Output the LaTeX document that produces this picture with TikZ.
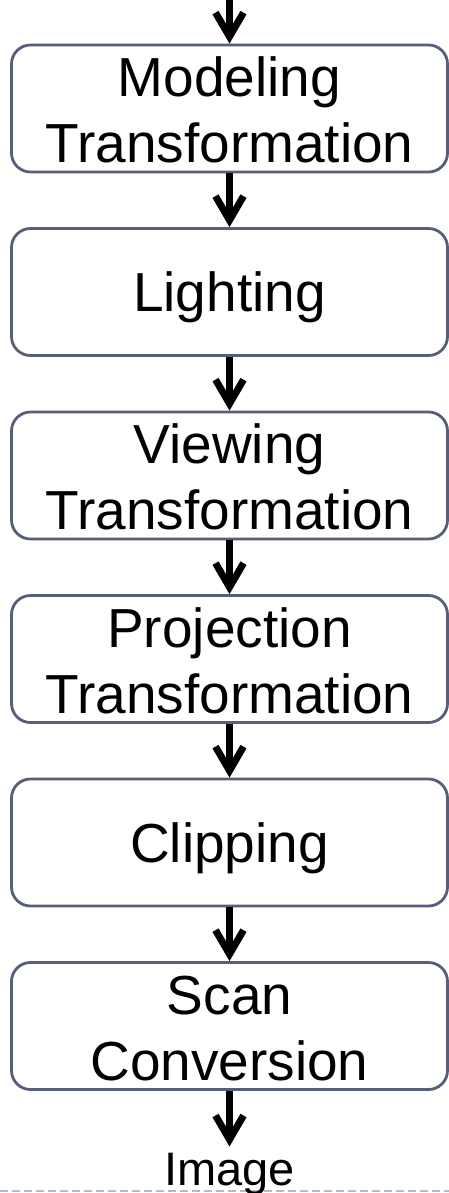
\documentclass[tikz,border=0pt]{standalone}
\usepackage{fontspec}
\setmainfont{Liberation Sans}
\usetikzlibrary{arrows.meta}
\definecolor{boxline}{HTML}{565E7A}
\definecolor{dashc}{HTML}{A9BED3}
\begin{document}
\begin{tikzpicture}[x=1pt,y=-1pt,
  stagebox/.style={draw=boxline, line width=2.8pt, rounded corners=19pt,
    minimum width=436pt, minimum height=127pt, inner sep=0pt},
  txt/.style={inner sep=0pt, anchor=base, font=\fontsize{55}{65}\selectfont},
  imgtxt/.style={inner sep=0pt, anchor=base, font=\fontsize{47}{55}\selectfont},
  flow/.style={line width=7pt, -{Straight Barb[length=24pt,width=28pt]}},
  dashrule/.style={draw=dashc, line width=1.8pt, dash pattern=on 8pt off 4pt}
]
\useasboundingbox (0,0) rectangle (449,1193);

% boxes
\node[stagebox] (b1) at (229.5,108.5) {};
\node[stagebox] (b2) at (229.5,292) {};
\node[stagebox] (b3) at (229.5,475.5) {};
\node[stagebox] (b4) at (229.5,659) {};
\node[stagebox] (b5) at (229.5,842.5) {};
\node[stagebox] (b6) at (229.5,1026) {};

% texts
\node[txt] (t1a) at (229.5,96.5) {Modeling};
\node[txt] (t1b) at (229.5,162.5) {Transformation};
\node[txt] (t2) at (229.5,311.5) {Lighting};
\node[txt] (t3a) at (229.5,463.5) {Viewing};
\node[txt] (t3b) at (229.5,529.5) {Transformation};
\node[txt] (t4a) at (229.5,647) {Projection};
\node[txt] (t4b) at (229.5,713) {Transformation};
\node[txt] (t5) at (229.5,862) {Clipping};
\node[txt] (t6a) at (229.5,1014) {Scan};
\node[txt] (t6b) at (229.5,1080) {Conversion};

% dashed rule and output label
\coordinate (dl) at (0,1191);
\coordinate (dr) at (449,1191);
\draw[dashrule] (dl) -- (dr);
\node[imgtxt] (img) at (229.5,1185) {Image};

% connectors
\coordinate (top) at (229.5,0);
\draw[flow] (top) -- (b1.north);
\draw[flow] (b1.south) -- (b2.north);
\draw[flow] (b2.south) -- (b3.north);
\draw[flow] (b3.south) -- (b4.north);
\draw[flow] (b4.south) -- (b5.north);
\draw[flow] (b5.south) -- (b6.north);
\draw[flow, shorten >=6pt] (b6.south) -- (img.north);
\end{tikzpicture}
\end{document}
